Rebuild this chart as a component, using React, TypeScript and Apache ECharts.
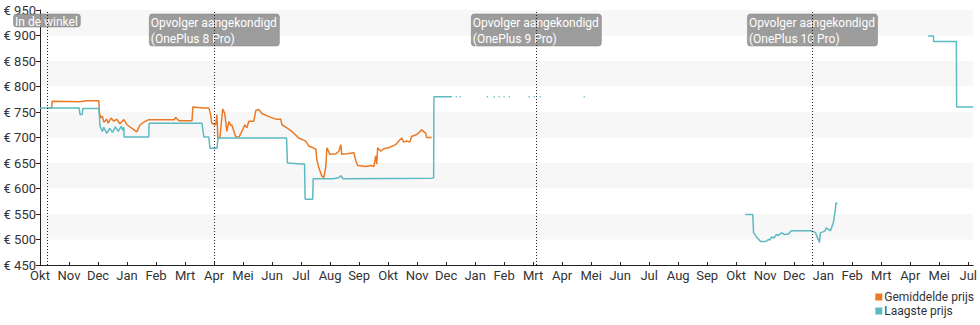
import React, { useEffect, useRef } from "react";
import * as echarts from "echarts";

// x values are months since Okt 2019 (0 = Okt 2019)
const monthLabels = [
  "Okt", "Nov", "Dec", "Jan", "Feb", "Mrt", "Apr", "Mei", "Jun", "Jul", "Aug", "Sep",
  "Okt", "Nov", "Dec", "Jan", "Feb", "Mrt", "Apr", "Mei", "Jun", "Jul", "Aug", "Sep",
  "Okt", "Nov", "Dec", "Jan", "Feb", "Mrt", "Apr", "Mei", "Jul",
];

const yTicks = { min: 450, max: 950, step: 50 };

const gemiddelde: [number, number | null][] = [
  [0.24, 758], [0.4, 758], [0.42, 771], [1.38, 770], [1.6, 772], [2.03, 772],
  [2.05, 748], [2.1, 738], [2.15, 742], [2.2, 730], [2.3, 736], [2.35, 728],
  [2.45, 738], [2.55, 732], [2.65, 736], [2.75, 727], [2.89, 735], [3.0, 725],
  [3.17, 718], [3.34, 711], [3.44, 724], [3.58, 730], [3.75, 735], [4.62, 735],
  [4.68, 739], [4.79, 733], [5.24, 733], [5.27, 760], [5.65, 758], [5.82, 758],
  [5.89, 743], [5.92, 728], [6.06, 725], [6.1, 745], [6.13, 699], [6.2, 699],
  [6.3, 756], [6.37, 747], [6.44, 712], [6.51, 731], [6.58, 723], [6.61, 725],
  [6.75, 701], [6.86, 701], [6.96, 712], [7.06, 725], [7.13, 719], [7.2, 732],
  [7.37, 732], [7.44, 753], [7.54, 755], [7.65, 747], [7.89, 741], [8.13, 736],
  [8.3, 736], [8.34, 725], [8.51, 719], [8.68, 712], [8.92, 699], [9.16, 693],
  [9.27, 683], [9.37, 681], [9.51, 677], [9.54, 657], [9.61, 641], [9.71, 625],
  [9.78, 621], [9.85, 641], [9.89, 680], [9.99, 667], [10.2, 668], [10.3, 673],
  [10.37, 686], [10.4, 667], [10.58, 668], [10.82, 670], [10.89, 654], [10.95, 645],
  [11.23, 643], [11.4, 645], [11.51, 643], [11.57, 664], [11.61, 648], [11.64, 680],
  [11.75, 673], [11.85, 678], [12.02, 680], [12.26, 686], [12.37, 693], [12.47, 699],
  [12.54, 691], [12.64, 693], [12.75, 691], [12.81, 702], [12.99, 706], [13.16, 715],
  [13.3, 708], [13.33, 700], [13.5, 700],
];

const laagste: [number, number | null][] = [
  [0, 758], [1.35, 758], [1.38, 745], [1.45, 745], [1.48, 757], [2.03, 757],
  [2.07, 722], [2.15, 712], [2.2, 720], [2.3, 708], [2.4, 718], [2.5, 710],
  [2.6, 721], [2.7, 712], [2.8, 722], [2.86, 714], [2.89, 720], [2.9, 701],
  [3.75, 701], [3.76, 728], [5.58, 728], [5.65, 701], [5.82, 701], [5.86, 679],
  [6.1, 679], [6.14, 699], [8.5, 699], [8.53, 650], [9.0, 648], [9.12, 648],
  [9.14, 579], [9.4, 579], [9.42, 619], [10.1, 619], [10.3, 621], [10.37, 625],
  [10.45, 619], [13.5, 620], [13.57, 621], [13.58, 780], [14.2, 780],
  [14.21, null],
  [14.33, 780], [14.37, 780], [14.38, null],
  [14.46, 780], [14.5, 780], [14.51, null],
  [15.4, 780], [15.44, 780], [15.45, null],
  [15.64, 780], [15.68, 780], [15.69, null],
  [15.81, 780], [15.85, 780], [15.86, null],
  [15.98, 780], [16.02, 780], [16.03, null],
  [16.16, 780], [16.2, 780], [16.21, null],
  [16.84, 780], [16.88, 780], [16.89, null],
  [17.02, 780], [17.06, 780], [17.07, null],
  [17.22, 780], [17.26, 780], [17.27, null],
  [18.74, 780], [18.78, 780], [18.79, null],
  [24.31, 549], [24.57, 549], [24.6, 513], [24.63, 511], [24.7, 505], [24.84, 496],
  [25.01, 496], [25.11, 500], [25.16, 499], [25.22, 505], [25.3, 503], [25.39, 510],
  [25.45, 508], [25.56, 513], [25.65, 510], [25.8, 511], [25.9, 517], [26.56, 517],
  [26.73, 514], [26.87, 494], [26.9, 513], [27.07, 517], [27.11, 523], [27.25, 517],
  [27.35, 533], [27.42, 559], [27.44, 572], [27.49, 570],
  [27.5, null],
  [30.62, 899], [30.8, 899], [30.81, 888], [31.59, 888], [31.6, 760], [32.17, 760],
];

const markerMonths = [0.24, 6.01, 17.11, 26.63];
const markerTexts = [
  "In de winkel",
  "Opvolger aangekondigd\n(OnePlus 8 Pro)",
  "Opvolger aangekondigd\n(OnePlus 9 Pro)",
  "Opvolger aangekondigd\n(OnePlus 10 Pro)",
];

const ORANGE = "#ec7a25";
const TEAL = "#5cbac2";
const FONT = "Roboto, 'Noto Sans', sans-serif";

export default function App() {
  const ref = useRef<HTMLDivElement>(null);
  useEffect(() => {
    if (!ref.current) return;
    const chart = echarts.init(ref.current, undefined, { renderer: "svg" });
    chart.setOption({
      animation: false,
      backgroundColor: "#fff",
      textStyle: { fontFamily: FONT },
      grid: { left: 40, right: 5, top: 10, bottom: 60 },
      legend: {
        data: ["Gemiddelde prijs", "Laagste prijs"],
        orient: "vertical",
        right: 6,
        top: 291,
        padding: 0,
        itemGap: 2,
        icon: "rect",
        itemWidth: 7,
        itemHeight: 7,
        textStyle: { fontSize: 12, color: "#333", fontFamily: FONT, padding: [0, 0, 0, -3] },
      },
      xAxis: {
        type: "value",
        min: 0,
        max: 32.17,
        interval: 1,
        axisLine: { show: true, lineStyle: { color: "#222", width: 1 } },
        axisTick: { show: true, length: 3, inside: true, lineStyle: { color: "#222" } },
        splitLine: { show: false },
        axisLabel: {
          color: "#333",
          fontSize: 13,
          margin: 4,
          fontFamily: FONT,
          showMaxLabel: false,
          formatter: (v: number) =>
            Math.abs(v - Math.round(v)) < 1e-6 ? monthLabels[Math.round(v)] ?? "" : "",
        },
      },
      yAxis: {
        type: "value",
        min: yTicks.min,
        max: yTicks.max,
        interval: yTicks.step,
        axisLine: { show: true, lineStyle: { color: "#222", width: 1 } },
        axisTick: { show: true, length: 4, lineStyle: { color: "#222" } },
        splitLine: { show: false },
        splitArea: { show: true, areaStyle: { color: ["rgba(255,255,255,0)", "#f7f7f7"] } },
        axisLabel: {
          color: "#333",
          fontSize: 13,
          margin: 4,
          fontFamily: FONT,
          formatter: (v: number) => "€ " + v,
        },
      },
      series: [
        {
          name: "Gemiddelde prijs",
          type: "line",
          data: gemiddelde,
          showSymbol: false,
          connectNulls: false,
          lineStyle: { color: ORANGE, width: 1.5 },
          itemStyle: { color: ORANGE },
          z: 2,
        },
        {
          name: "Laagste prijs",
          type: "line",
          data: laagste,
          showSymbol: false,
          connectNulls: false,
          lineStyle: { color: TEAL, width: 1.5 },
          itemStyle: { color: TEAL },
          z: 3,
          markLine: {
            silent: true,
            symbol: ["none", "none"],
            label: { show: false },
            lineStyle: { type: [1, 2], color: "#222", width: 1 },
            data: markerMonths.map((m) => ({ xAxis: m })),
          },
        },
      ],
    });

    const canvas = document.createElement("canvas");
    const ctx = canvas.getContext("2d");
    const fontStr = "12px " + FONT;
    if (ctx) ctx.font = fontStr;
    const elements: any[] = [];
    markerMonths.forEach((m, i) => {
      const px = chart.convertToPixel({ xAxisIndex: 0 }, m) as number;
      const lines = markerTexts[i].split("\n");
      const tw = Math.max(...lines.map((l) => (ctx ? ctx.measureText(l).width : l.length * 6.2)));
      const w = tw + 4;
      const h = lines.length === 1 ? 13 : 32;
      const left = px - w / 2;
      elements.push({
        type: "rect",
        z: 1,
        shape: { x: left, y: 14, width: w, height: h, r: 3 },
        style: { fill: "rgba(140,140,140,0.85)", stroke: "rgba(120,120,120,0.9)", lineWidth: 0.5 },
      });
      elements.push({
        type: "text",
        z: 1,
        x: left + 1.5,
        y: lines.length === 1 ? 13.5 : 14.5,
        style: {
          text: markerTexts[i],
          fill: "#fff",
          font: fontStr,
          lineHeight: 16,
          align: "left",
          verticalAlign: "top",
        },
      });
    });
    chart.setOption({ graphic: { elements } });

    return () => chart.dispose();
  }, []);
  return (
    <div
      ref={ref}
      style={{ position: "absolute", left: 0, top: 0, width: 980, height: 325 }}
    />
  );
}
